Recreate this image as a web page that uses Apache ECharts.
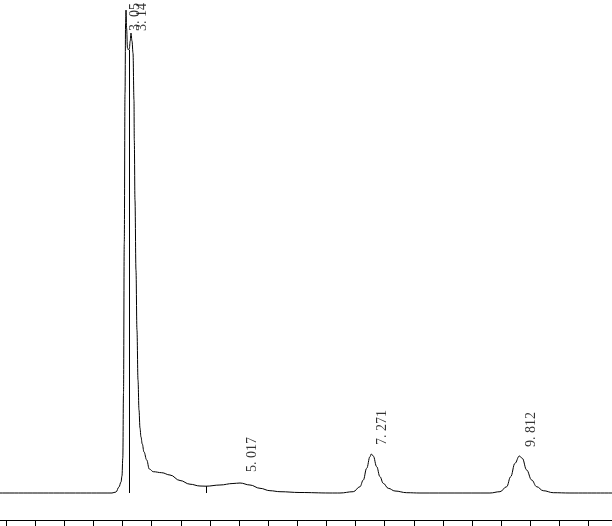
<!DOCTYPE html>
<html>
<head>
<meta charset="utf-8">
<script src="https://cdn.jsdelivr.net/npm/echarts@6/dist/echarts.min.js"></script>
<style>
    html, body { margin: 0; padding: 0; background: #fff; }
    #chart { width: 612px; height: 526px; }
</style>
</head>
<body>
<div id="chart"></div>
<script>
// retention time (min) and detector signal
const times = [
    0.6, 2.819, 2.888, 2.939, 2.974, 2.991, 3.005, 3.017, 3.030, 3.043, 3.053, 3.060,
    3.070, 3.085, 3.103, 3.116, 3.132, 3.145, 3.163, 3.180, 3.197, 3.202, 3.214, 3.231,
    3.248, 3.266, 3.283, 3.300, 3.317, 3.339, 3.369, 3.415, 3.460, 3.528, 3.672, 3.815,
    3.987, 4.158, 4.330, 4.433, 4.673, 4.896, 5.017, 5.188, 5.360, 5.531, 5.703, 6.046,
    6.561, 6.733, 6.961, 7.076, 7.133, 7.191, 7.248, 7.271, 7.304, 7.363, 7.419, 7.476,
    7.562, 7.677, 7.878, 8.106, 9.307, 9.479, 9.594, 9.663, 9.736, 9.812, 9.862, 9.937,
    10.023, 10.109, 10.222, 10.394, 10.680, 11.6
]
const signal = [
    0, 0, 1, 6, 11, 17, 35, 100, 250, 400, 470, 483,
    465, 445, 443, 444, 452, 460, 452, 440, 393, 353, 293, 223,
    163, 113, 83, 65, 56, 49, 41, 33, 24, 21.3, 20.3, 18,
    12.5, 8.8, 7, 6.8, 8, 9.5, 10, 8, 4.7, 2.3, 1.3, 0.5,
    0, 0, 1.3, 6.3, 13, 24.7, 36.3, 39, 37, 26.3, 16.3, 9.7,
    4.7, 2, 0.3, 0, 0, 1.3, 6.3, 16.3, 29.7, 37, 34.7, 23,
    13, 6.3, 2.3, 0.3, 0, 0
]

// labelled peaks
const peakTimes = [3.05, 3.14, 5.017, 7.271, 9.812]
const peakHeights = [483, 460, 10, 39, 37]
const peakLabels = ['3. 05', '3. 14', '5. 017', '7. 271', '9. 812']

// integration drop lines: [time, top]
const dropLines = [[3.116, 443], [4.433, 6.8]]

// time axis ticks every 0.5 min
const tickTimes = []
for (let t = 1; t <= 11; t += 0.5) tickTimes.push(t)

const chart = echarts.init(document.getElementById('chart'))

const trace = times.map((t, i) => [t, signal[i]])

// offsets get rotated with the label: [-dy, dx] on screen
const labelOffsets = [[-21, 10], [2, 12], [11, 12], [9, 11], [9, 12]]
const peaks = peakTimes.map((t, i) => ({
    value: [t, peakHeights[i]],
    label: { offset: labelOffsets[i] }
}))

const option = {
    animation: false,
    grid: { left: 0, right: 0, top: 0, bottom: 6 },
    xAxis: {
        type: 'value',
        min: 0.897,
        max: 11.402,
        axisLine: { onZero: false, lineStyle: { color: '#000', width: 1 } },
        axisTick: { inside: false, length: 8, customValues: tickTimes, lineStyle: { color: '#000' } },
        axisLabel: { show: false },
        splitLine: { show: false }
    },
    yAxis: {
        type: 'value',
        min: -27,
        max: 493,
        show: false
    },
    series: [
        {
            type: 'line',
            data: trace,
            showSymbol: false,
            smooth: 0.4,
            smoothMonotone: 'x',
            lineStyle: { color: '#000', width: 1 },
            markLine: {
                silent: true,
                symbol: 'none',
                label: { show: false },
                lineStyle: { color: '#000', width: 1, type: 'solid' },
                data: dropLines.map(d => [{ coord: [d[0], 0] }, { coord: [d[0], d[1]] }])
            }
        },
        {
            type: 'scatter',
            data: peaks,
            symbolSize: 0,
            silent: true,
            label: {
                show: true,
                position: 'inside',
                rotate: 90,
                align: 'left',
                verticalAlign: 'middle',
                fontFamily: 'Liberation Serif',
                fontSize: 14,
                color: '#000',
                formatter: p => peakLabels[p.dataIndex]
            }
        }
    ]
}

chart.setOption(option)
</script>
</body>
</html>
